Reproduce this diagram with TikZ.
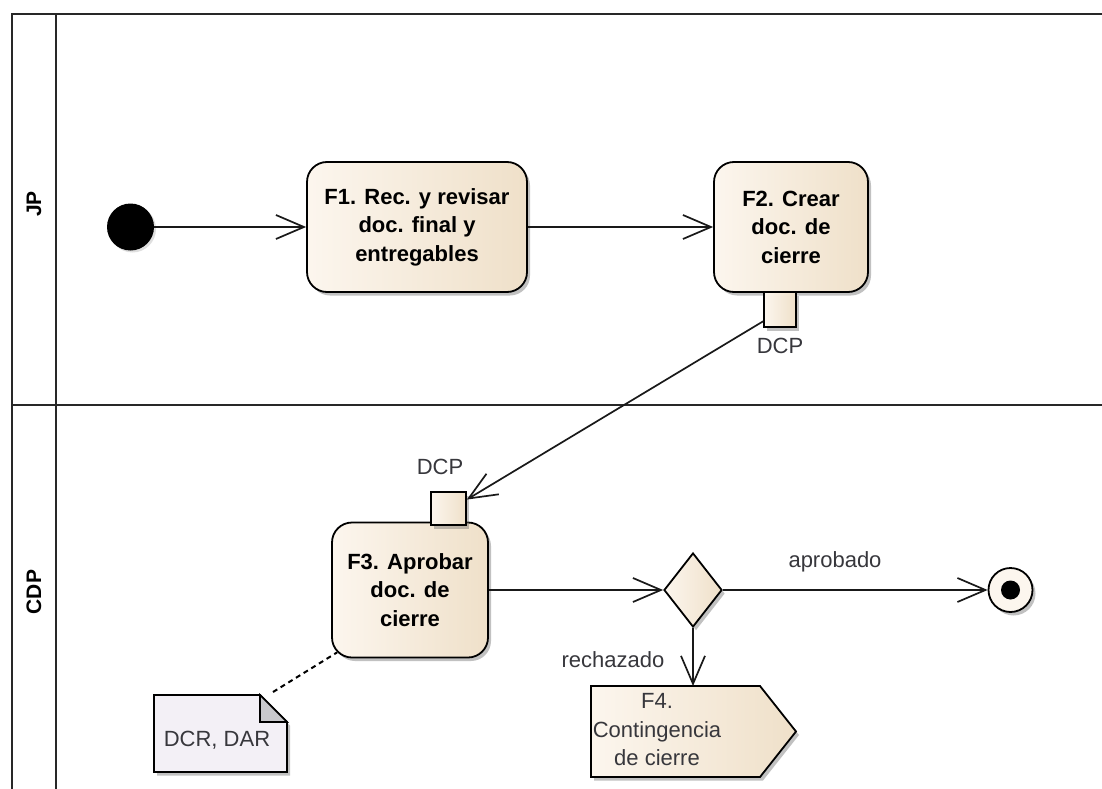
\documentclass[tikz,border=0pt]{standalone}
\usepackage{fontspec}
\setmainfont{Liberation Sans}
\usetikzlibrary{arrows.meta,shadows,calc,shapes.geometric}

\definecolor{actlight}{RGB}{252,246,238}
\definecolor{actdark}{RGB}{239,224,201}
\definecolor{notefill}{RGB}{243,240,246}
\definecolor{foldgray}{RGB}{200,200,204}
\definecolor{labelgray}{RGB}{55,55,60}
\definecolor{framegray}{RGB}{40,40,40}

\begin{document}
\begin{tikzpicture}[x=1pt,y=1pt,
  every node/.style={font=\fontsize{22}{28.5}\selectfont},
  shade/.style={drop shadow={shadow xshift=3pt,shadow yshift=-3.5pt,opacity=0.4,fill=black!60}},
  beige/.style={left color=actlight,right color=actdark},
  action/.style={draw=black,line width=1.8pt,rounded corners=20pt,beige,shade,
    align=center,inner sep=0pt,font=\fontsize{22}{28.5}\selectfont\bfseries},
  pinbox/.style={draw=black,line width=1.6pt,beige,shade,inner sep=0pt},
  flow/.style={line width=1.7pt,draw=black!90,-{Straight Barb[length=28pt,width=24pt,line width=1.7pt]}},
  lane/.style={line width=2.4pt,draw=framegray},
  lanelabel/.style={rotate=90,font=\fontsize{21}{24}\selectfont\bfseries},
  lbl/.style={text=labelgray}
]
\useasboundingbox (0,0) rectangle (1102,-789);
\fill[white] (0,0) rectangle (1102,-789);

% swimlane frame
\draw[lane] (1102,-14) -- (12,-14) -- (12,-789);
\draw[lane] (56,-14) -- (56,-789);
\draw[lane] (12,-405) -- (1102,-405);
\node[lanelabel] (jp) at (34,-204) {JP};
\node[lanelabel] (cdp) at (34,-592) {CDP};

% initial and final nodes
\node[circle,fill=black,minimum size=47pt,inner sep=0pt,drop shadow={shadow xshift=2pt,shadow yshift=-2pt,opacity=0.25}] (start) at (130.5,-227) {};
\node[circle,draw=black,line width=1.8pt,fill=actlight,minimum size=44pt,inner sep=0pt,shade] (final) at (1010.5,-590) {};
\node[circle,fill=black,minimum size=19pt,inner sep=0pt] (finaldot) at (final.center) {};

% actions
\node[action,minimum width=220pt,minimum height=130pt] (F1) at (417,-227)
  {F1. Rec. y revisar\\doc. final y\\entregables};
\node[action,minimum width=154pt,minimum height=130pt] (F2) at (791,-227)
  {F2. Crear\\doc. de\\cierre};
\node[action,minimum width=156pt,minimum height=135pt] (F3) at (410,-590)
  {F3. Aprobar\\doc. de\\cierre};

% object pins
\node[pinbox,minimum width=32pt,minimum height=35pt] (pin2) at (780,-309.5) {};
\node[lbl] (pin2lbl) at (780,-346) {DCP};
\node[pinbox,minimum width=35pt,minimum height=33pt] (pin3) at (448.5,-508.5) {};
\node[lbl] (pin3lbl) at (440,-467) {DCP};

% decision
\node[diamond,draw=black,line width=1.8pt,beige,shade,minimum width=58pt,minimum height=74pt,inner sep=0pt] (dec) at (693,-590) {};

% send signal action F4
\coordinate (f4nw) at (591,-686);
\coordinate (f4ne) at (760,-686);
\coordinate (f4tip) at (796,-731.5);
\coordinate (f4se) at (760,-777);
\coordinate (f4sw) at (591,-777);
\path[draw=black,line width=1.8pt,beige,shade] (f4nw) -- (f4ne) -- (f4tip) -- (f4se) -- (f4sw) -- cycle;
\node[lbl,align=center] (F4) at (657,-730) {F4.\\Contingencia\\de cierre};

% note
\coordinate (nnw) at (154,-695);
\coordinate (nfold) at (260,-695);
\coordinate (nfold2) at (287,-722);
\coordinate (nse) at (287,-772);
\coordinate (nsw) at (154,-772);
\path[draw=black,line width=1.8pt,fill=notefill,shade]
  (nnw) -- (nfold) -- (nfold2) -- (nse) -- (nsw) -- cycle;
\path[draw=black,line width=1.6pt,fill=foldgray] (nfold) -- (nfold2) -- (nfold |- nfold2) -- cycle;
\node[lbl] (note) at (217,-740) {DCR, DAR};

% guard labels
\node[lbl] (aprob) at (835,-562) {aprobado};
\node[lbl] (rech) at (613,-660) {rechazado};

% control and object flows
\draw[flow] (start) -- (F1);
\draw[flow] (F1) -- (F2);
\draw[flow] (pin2.215) -- (pin3.26);
\draw[flow] (F3.east) -- (dec.west);
\draw[flow] (dec.east) -- (final.west);
\draw[flow] (dec.south) -- (dec.south |- f4nw);
\draw[line width=2pt,dash pattern=on 5pt off 4pt] (273,-692) -- ($(F3.south west)+(6,6)$);
\end{tikzpicture}
\end{document}
